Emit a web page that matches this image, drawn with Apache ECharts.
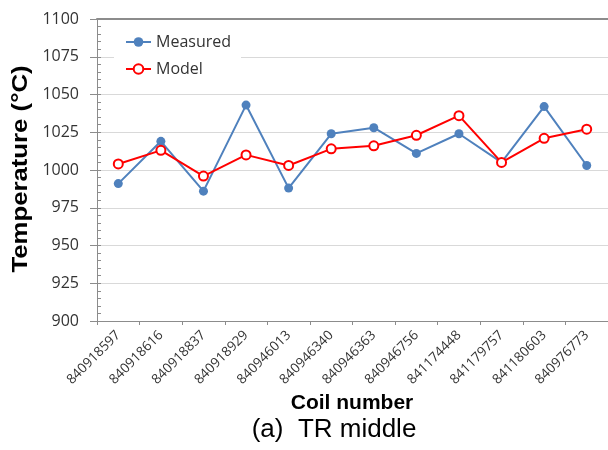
<!DOCTYPE html>
<html>
<head>
<meta charset="utf-8">
<script src="https://cdn.jsdelivr.net/npm/echarts@6/dist/echarts.min.js"></script>
<style>html,body{margin:0;padding:0;background:#fff;}#c{width:608px;height:450px;}</style>
</head>
<body>
<div id="c"></div>
<script>
var categories = ['840918597','840918616','840918837','840918929','840946013','840946340','840946363','840946756','841174448','841179757','841180603','840976773'];
var measured = [991, 1019, 986, 1043, 988, 1024, 1028, 1011, 1024, 1005, 1042, 1003];
var model = [1004, 1013, 996, 1010, 1003, 1014, 1016, 1023, 1036, 1005, 1021, 1027];
var yTicks = [900, 925, 950, 975, 1000, 1025, 1050, 1075, 1100];

var chart = echarts.init(document.getElementById('c'), null, {renderer: 'canvas'});
var grid = {left: 97, top: 19, right: -3, bottom: 129};
chart.setOption({
  animation: false,
  backgroundColor: '#fff',
  grid: grid,
  legend: {
    orient: 'vertical',
    left: 114, top: 29,
    padding: [4, 10, 6, 11],
    backgroundColor: '#fff',
    itemWidth: 25, itemHeight: 12, itemGap: 9,
    textStyle: {fontFamily: 'Open Sans', fontSize: 16, color: '#333', lineHeight: 18},
    data: ['Measured', 'Model']
  },
  xAxis: [{
    type: 'category', data: categories, boundaryGap: true,
    axisLine: {lineStyle: {color: '#8c8c8c', width: 1}},
    axisTick: {show: true, alignWithLabel: false, length: 4, lineStyle: {color: '#8c8c8c'}},
    axisLabel: {rotate: 45, interval: 0, margin: 12, fontFamily: 'Open Sans', fontSize: 13.5, color: '#333'},
    splitLine: {show: false}
  }, {
    type: 'category', data: categories, position: 'top',
    axisLine: {lineStyle: {color: '#8c8c8c', width: 2}},
    axisTick: {show: false}, axisLabel: {show: false}, splitLine: {show: false}
  }],
  yAxis: [{
    type: 'value', min: 900, max: 1100, interval: 25,
    axisLine: {show: true, lineStyle: {color: '#8c8c8c'}},
    axisTick: {show: true, length: 7, lineStyle: {color: '#8c8c8c'}},
    axisLabel: {margin: 18, fontFamily: 'Open Sans', fontSize: 16, color: '#333',
      formatter: function (v) { return yTicks.indexOf(v) >= 0 ? String(v) : ''; }},
    splitLine: {show: true, lineStyle: {color: '#d9d9d9', width: 1}}
  }, {
    type: 'value', min: 900, max: 1100, interval: 5, position: 'left', offset: 0,
    axisLine: {show: false},
    axisTick: {show: true, inside: true, length: 4, lineStyle: {color: '#8c8c8c'}},
    axisLabel: {show: false}, splitLine: {show: false}
  }],
  series: [{
    name: 'Measured', type: 'line', data: measured,
    symbol: 'circle', symbolSize: 9,
    lineStyle: {color: '#4f81bd', width: 2},
    itemStyle: {color: '#4f81bd'}
  }, {
    name: 'Model', type: 'line', data: model,
    symbol: 'circle', symbolSize: 9,
    lineStyle: {color: '#ff0000', width: 2},
    itemStyle: {color: '#fff', borderColor: '#ff0000', borderWidth: 2}
  }],
  graphic: [{
    type: 'text', x: 352, y: 403,
    style: {text: 'Coil number', font: 'bold 21px "Liberation Sans", Arial', fill: '#000', align: 'center', verticalAlign: 'middle'}
  }, {
    type: 'text', x: 334, y: 430,
    style: {text: '(a)  TR middle', font: '26px "Liberation Sans", Arial', fill: '#000', align: 'center', verticalAlign: 'middle'}
  }, {
    type: 'text', x: 21, y: 169, rotation: Math.PI / 2, scaleX: 1.17,
    style: {text: 'Temperature (°C)', font: 'bold 22px "Liberation Sans", Arial', fill: '#000', align: 'center', verticalAlign: 'middle'}
  }]
});
</script>
</body>
</html>
